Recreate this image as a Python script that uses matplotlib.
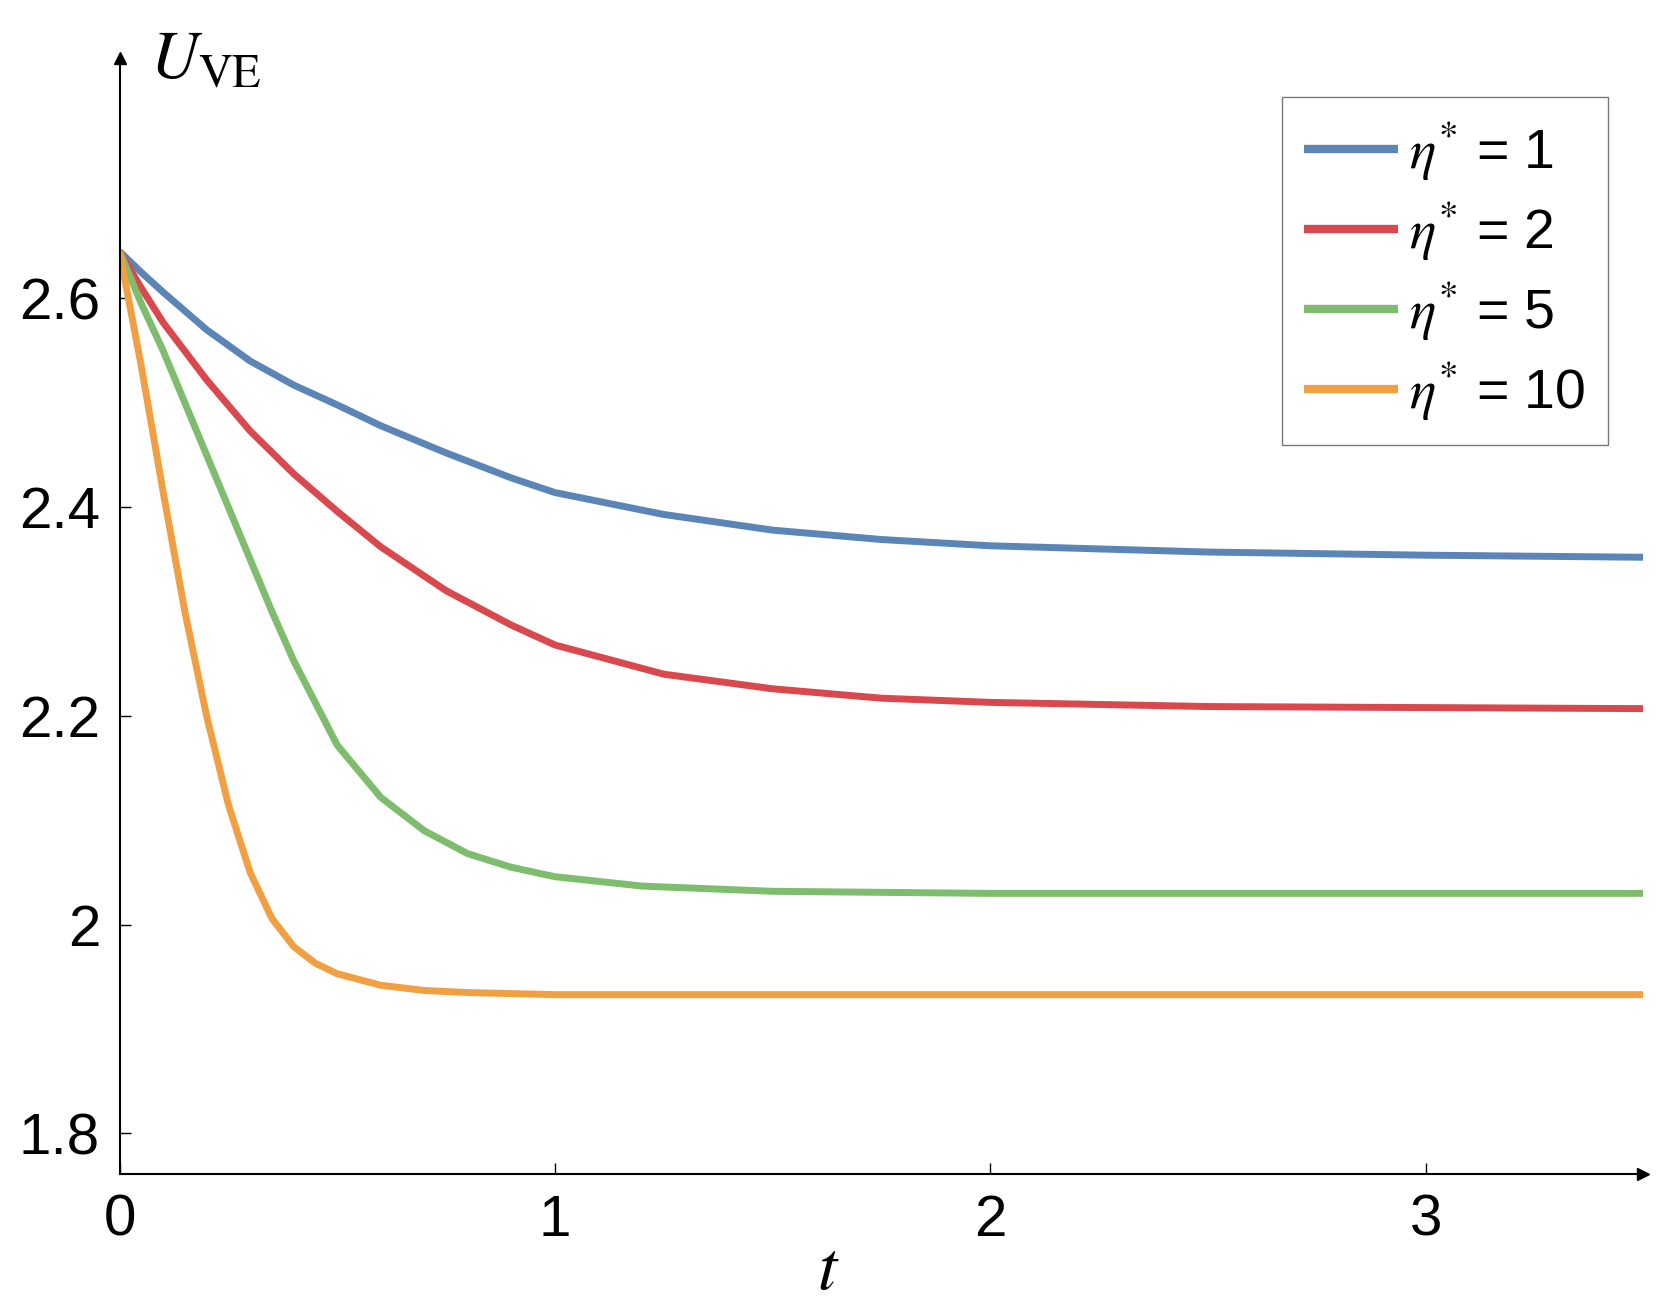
import matplotlib
matplotlib.use("Agg")
import matplotlib.pyplot as plt
matplotlib.rcParams["mathtext.fontset"] = "stix"

t_blue = [0, 0.05, 0.1, 0.2, 0.3, 0.4, 0.5, 0.6, 0.75, 0.9, 1.0, 1.25, 1.5, 1.75, 2.0, 2.5, 3.0, 3.5]
u_blue = [2.645, 2.625, 2.606, 2.57, 2.54, 2.517, 2.498, 2.478, 2.452, 2.428, 2.414, 2.393, 2.378, 2.369, 2.363, 2.357, 2.354, 2.352]
t_red = [0, 0.05, 0.1, 0.2, 0.3, 0.4, 0.5, 0.6, 0.75, 0.9, 1.0, 1.25, 1.5, 1.75, 2.0, 2.5, 3.0, 3.5]
u_red = [2.645, 2.61, 2.577, 2.522, 2.473, 2.432, 2.396, 2.362, 2.32, 2.287, 2.268, 2.24, 2.226, 2.217, 2.213, 2.209, 2.208, 2.207]
t_green = [0, 0.05, 0.1, 0.15, 0.2, 0.25, 0.3, 0.35, 0.4, 0.5, 0.6, 0.7, 0.8, 0.9, 1.0, 1.2, 1.5, 2.0, 3.5]
u_green = [2.645, 2.595, 2.55, 2.5, 2.45, 2.4, 2.35, 2.3, 2.253, 2.172, 2.122, 2.09, 2.068, 2.055, 2.046, 2.037, 2.032, 2.03, 2.03]
t_orange = [0, 0.025, 0.05, 0.075, 0.1, 0.15, 0.2, 0.25, 0.3, 0.35, 0.4, 0.45, 0.5, 0.6, 0.7, 0.8, 1.0, 3.5]
u_orange = [2.645, 2.59, 2.535, 2.475, 2.415, 2.3, 2.2, 2.115, 2.05, 2.006, 1.979, 1.963, 1.953, 1.942, 1.937, 1.935, 1.933, 1.933]

series = [
    (t_blue, u_blue, "#5b85b6", r"$\eta^{*}$ = 1"),
    (t_red, u_red, "#d9484c", r"$\eta^{*}$ = 2"),
    (t_green, u_green, "#7dbd6d", r"$\eta^{*}$ = 5"),
    (t_orange, u_orange, "#f0a043", r"$\eta^{*}$ = 10"),
]
xticks = [0, 1, 2, 3]
yticks = [1.8, 2.0, 2.2, 2.4, 2.6]
ytick_labels = ["1.8", "2", "2.2", "2.4", "2.6"]

fig = plt.figure(figsize=(16.6, 12.96), dpi=100)
ax = fig.add_axes([0.072, 0.094, 0.918, 0.861])
for t, u, c, lab in series:
    ax.plot(t, u, color=c, lw=5, label=lab, solid_capstyle="butt", solid_joinstyle="round")
ax.set_xlim(0, 3.5)
ax.set_ylim(1.761, 2.83)
for s in ["top", "right"]:
    ax.spines[s].set_visible(False)
ax.spines["left"].set_linewidth(1.5)
ax.spines["bottom"].set_linewidth(1.5)
ax.plot(1, 0, ">k", transform=ax.transAxes, clip_on=False, ms=8)
ax.plot(0, 1, "^k", transform=ax.transAxes, clip_on=False, ms=8)
ax.set_xticks(xticks)
ax.set_xticklabels([str(x) for x in xticks])
ax.set_yticks(yticks)
ax.set_yticklabels(ytick_labels)
ax.tick_params(direction="in", length=8, width=1, labelsize=42, pad=14)
for lbl in ax.get_xticklabels() + ax.get_yticklabels():
    lbl.set_fontfamily("Liberation Sans")
ax.text(0.02, 1.0, r"$U_{\mathrm{VE}}$", transform=ax.transAxes, fontsize=48,
        va="center", ha="left")
ax.text(0.465, -0.085, r"$t$", transform=ax.transAxes, fontsize=50, ha="center", va="center")
leg = ax.legend(loc="upper right", bbox_to_anchor=(0.995, 0.99), fontsize=40, frameon=True,
                fancybox=False, edgecolor="#555555", handlelength=1.7, labelspacing=0.3,
                borderpad=0.4, handletextpad=0.2,
                prop={"family": "Liberation Sans", "size": 40})
for line in leg.get_lines():
    line.set_linewidth(6)
leg.get_frame().set_linewidth(1.0)
fig.savefig("out.png", dpi=100)
